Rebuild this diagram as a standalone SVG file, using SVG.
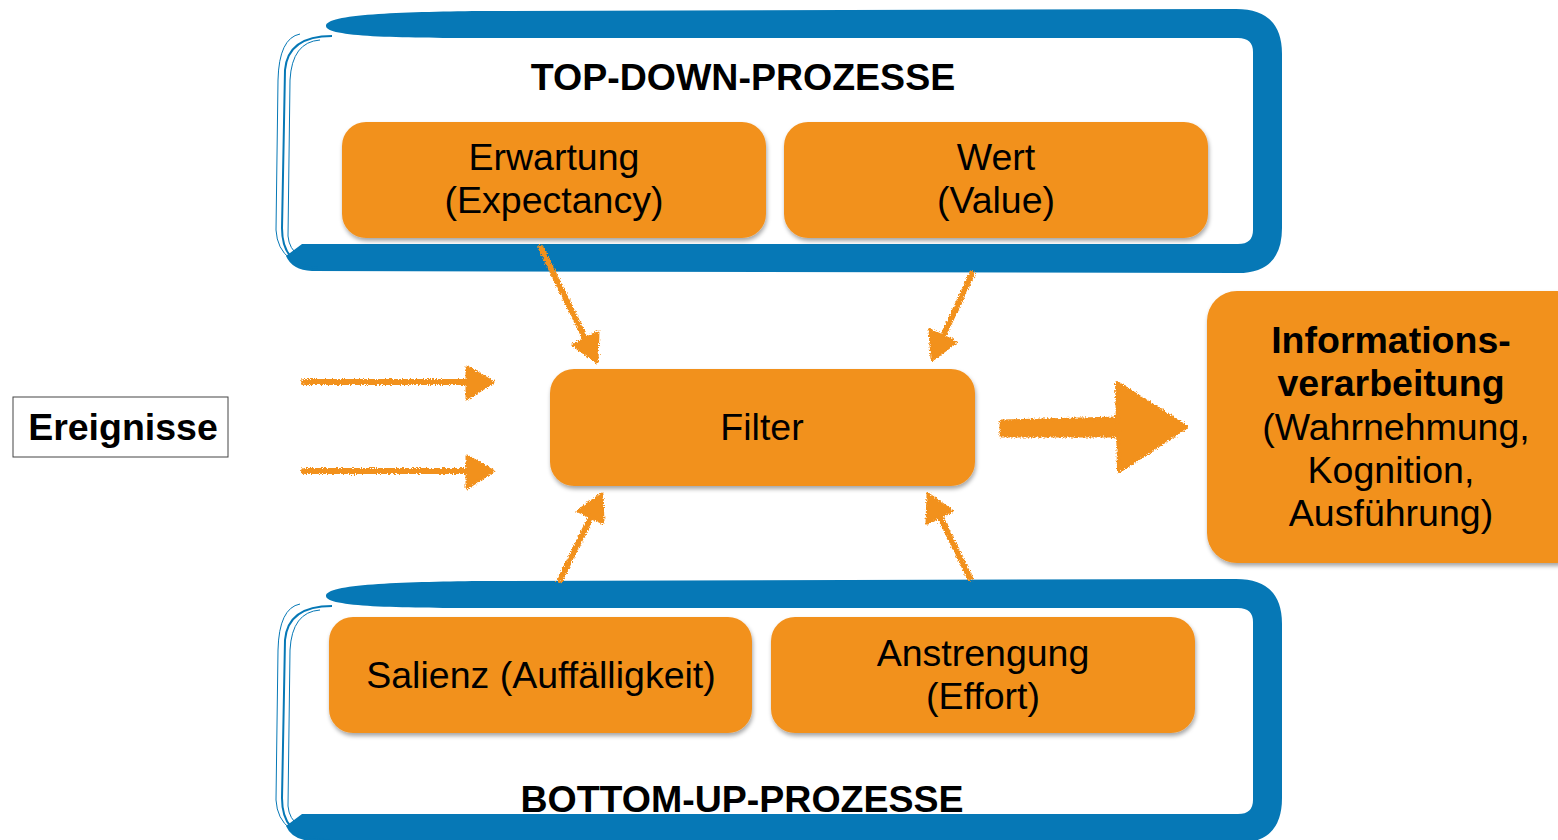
<svg xmlns="http://www.w3.org/2000/svg" width="1558" height="840" viewBox="0 0 1558 840">
<defs>
<filter id="shadow" x="-10%" y="-10%" width="125%" height="130%">
<feDropShadow dx="1" dy="3" stdDeviation="2" flood-color="#000" flood-opacity="0.35"/>
</filter>
<filter id="chalk" x="-10%" y="-10%" width="120%" height="120%">
<feTurbulence type="fractalNoise" baseFrequency="0.7" numOctaves="2" seed="3" result="n"/>
<feDisplacementMap in="SourceGraphic" in2="n" scale="5" xChannelSelector="R" yChannelSelector="G"/>
</filter>
<style>
.box{fill:#F2911E;filter:url(#shadow)}
.t{font-family:"Liberation Sans",Arial,sans-serif;font-size:37.5px;fill:#000;text-anchor:middle}
.b{font-weight:bold}
.frame{fill:#0678B6}
.thin{fill:none;stroke:#0678B6}
.arr{fill:#F2911E;stroke:#F2911E;stroke-linejoin:round}
.shaft{fill:none;stroke:#F2911E;stroke-width:6;stroke-linecap:round}
</style>
<g id="frameShape">
<path class="frame" fill-rule="evenodd" d="M 326,26 C 326,14 400,12 480,11 L 1236,9 Q 1282,9 1282,54 L 1282,228 Q 1282,273 1238,273 L 312,271 Q 292,270 286,256 L 302,244 L 1238,244 Q 1253,244 1253,230 L 1253,52 Q 1253,38 1238,38 L 480,38 C 400,38 326,37 326,26 Z"/>
<path class="thin" stroke-width="2" d="M 332,36 Q 288,36 285,70 L 282,228 Q 282,266 318,268"/>
<path class="thin" stroke-width="1" d="M 320,40 Q 292,42 290,80 L 288,236 Q 290,262 330,264"/>
<path class="thin" stroke-width="1" d="M 300,34 Q 279,38 278,80 L 276,230 Q 278,268 330,270"/>
</g>
</defs>

<g id="topFrame">
<use href="#frameShape"/>
<text class="t b" x="743" y="90" font-size="38.4">TOP-DOWN-PROZESSE</text>
</g>
<g id="bottomFrame">
<use href="#frameShape" transform="translate(0,570)"/>
<text class="t b" x="742" y="812" font-size="38.4">BOTTOM-UP-PROZESSE</text>
</g>

<g id="erwartung">
<rect class="box" x="342" y="122" width="424" height="116" rx="24"/>
<text class="t" x="554" y="170">Erwartung</text>
<text class="t" x="554" y="213">(Expectancy)</text>
</g>
<g id="wert">
<rect class="box" x="784" y="122" width="424" height="116" rx="24"/>
<text class="t" x="996" y="170">Wert</text>
<text class="t" x="996" y="213">(Value)</text>
</g>
<g id="filter">
<rect class="box" x="550" y="369" width="425" height="117" rx="24"/>
<text class="t" x="762" y="440">Filter</text>
</g>
<g id="salienz">
<rect class="box" x="329" y="617" width="423" height="116" rx="24"/>
<text class="t" x="541" y="688">Salienz (Auffälligkeit)</text>
</g>
<g id="anstrengung">
<rect class="box" x="771" y="617" width="424" height="116" rx="24"/>
<text class="t" x="983" y="666">Anstrengung</text>
<text class="t" x="983" y="709">(Effort)</text>
</g>
<g id="informationsverarbeitung">
<rect class="box" x="1207" y="291" width="380" height="272" rx="30"/>
<text class="t b" x="1391" y="353">Informations-</text>
<text class="t b" x="1391" y="396">verarbeitung</text>
<text class="t" x="1396" y="440">(Wahrnehmung,</text>
<text class="t" x="1391" y="483">Kognition,</text>
<text class="t" x="1391" y="526">Ausführung)</text>
</g>
<g id="ereignisse">
<rect x="13" y="397" width="215" height="60" fill="#fff" stroke="#444" stroke-width="1"/>
<text class="t b" x="123" y="440" font-size="36.2">Ereignisse</text>
</g>

<g id="connectors" filter="url(#chalk)">
<line class="shaft" x1="304" y1="382" x2="470" y2="382"/>
<polygon class="arr" stroke-width="3" points="467,367 493,382 467,399"/>
<line class="shaft" x1="304" y1="471" x2="470" y2="471"/>
<polygon class="arr" stroke-width="3" points="467,456 493,471 467,488"/>
<line class="shaft" stroke-width="5" x1="541" y1="248" x2="585" y2="338"/>
<polygon class="arr" stroke-width="3" points="597,362 598,332 573,345"/>
<line class="shaft" stroke-width="5" x1="972" y1="274" x2="943" y2="336"/>
<polygon class="arr" stroke-width="3" points="932,360 956,342 930,330"/>
<line class="shaft" stroke-width="5" x1="560" y1="580" x2="591" y2="517"/>
<polygon class="arr" stroke-width="3" points="602,494 603,523 578,511"/>
<line class="shaft" stroke-width="5" x1="970" y1="578" x2="940" y2="517"/>
<polygon class="arr" stroke-width="3" points="928,494 952,511 927,523"/>
<polygon class="arr" stroke-width="3" points="1001,421 1118,418 1118,436 1001,436"/>
<polygon class="arr" stroke-width="4" points="1117,383 1186,427 1119,471"/>
</g>
</svg>
